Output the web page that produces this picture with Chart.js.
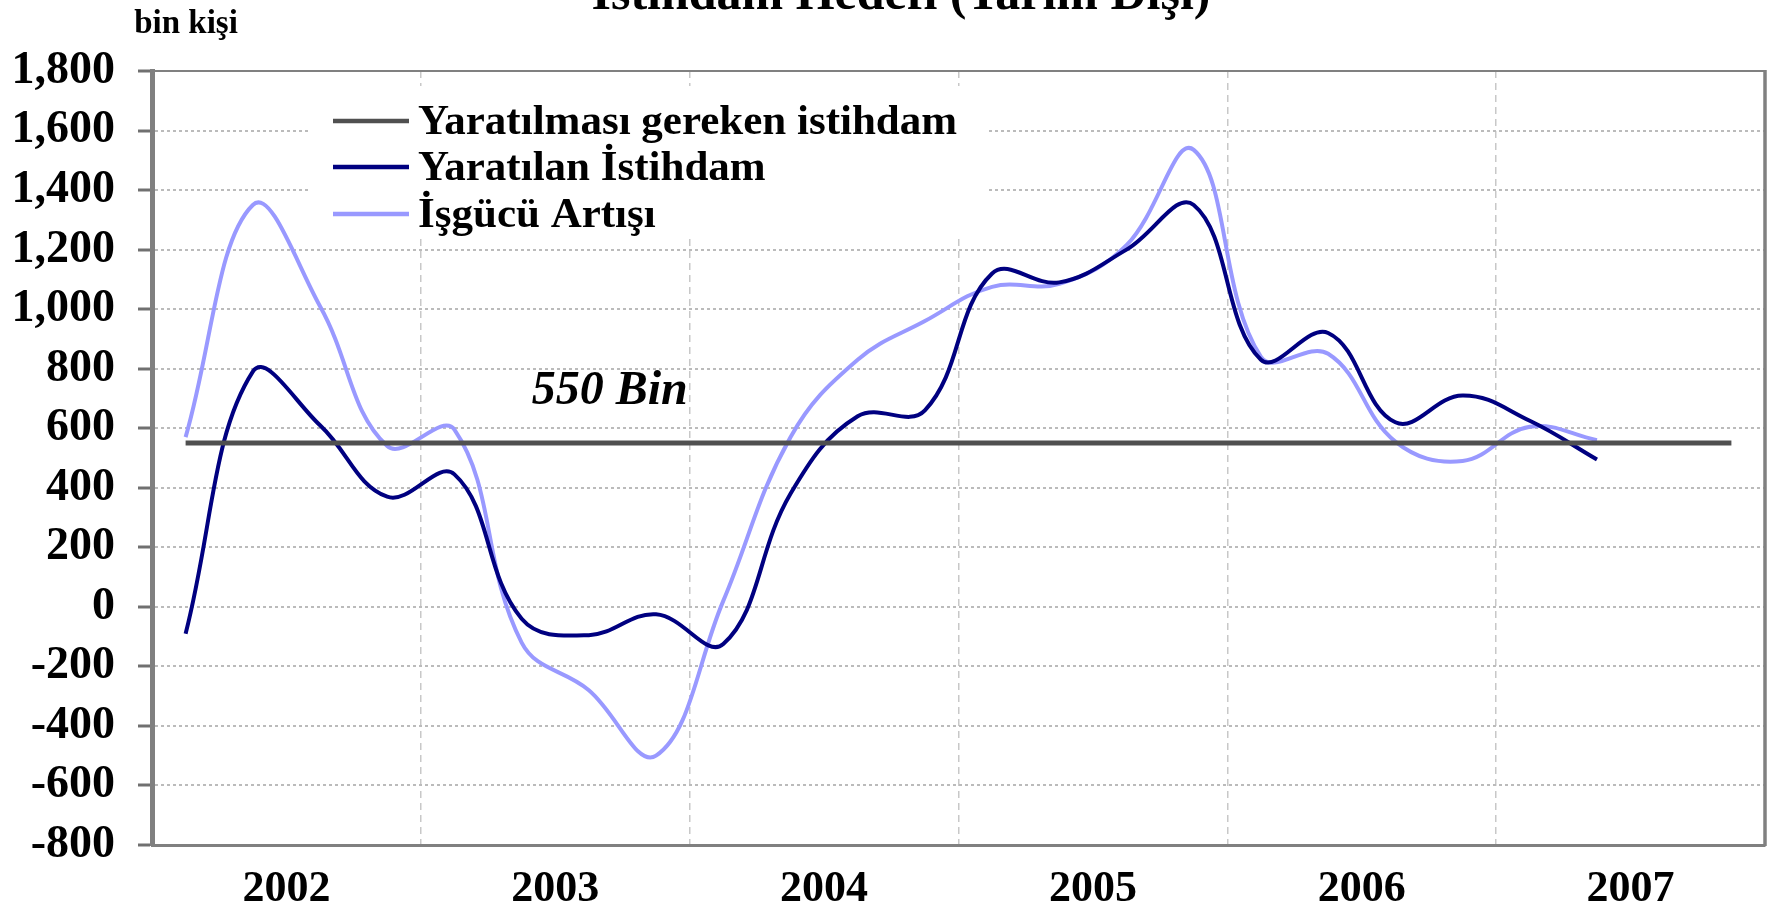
<!DOCTYPE html>
<html>
<head>
<meta charset="utf-8">
<script src="https://cdn.jsdelivr.net/npm/chart.js@4.4.1/dist/chart.umd.min.js"></script>
<style>
  html, body { margin: 0; padding: 0; background: #fff; }
  #wrap { width: 1778px; height: 911px; }
</style>
</head>
<body>
<div id="wrap"><canvas id="chart" width="1778" height="911"></canvas></div>
<script>
// quarterly observations, 2002 Q1 .. 2007 Q4
const quarters = [
    '2002-I', '2002-II', '2002-III', '2002-IV',
    '2003-I', '2003-II', '2003-III', '2003-IV',
    '2004-I', '2004-II', '2004-III', '2004-IV',
    '2005-I', '2005-II', '2005-III', '2005-IV',
    '2006-I', '2006-II', '2006-III', '2006-IV',
    '2007-I', '2007-II', '2007-III', '2007-IV'
];
const yearLabels = ['2002', '2003', '2004', '2005', '2006', '2007'];

// bin kişi
const gerekli = [550, 550, 550, 550, 550, 550, 550, 550, 550, 550, 550, 550,
                 550, 550, 550, 550, 550, 550, 550, 550, 550, 550, 550, 550];
const yaratilan = [-90, 790, 610, 370, 445, -40, -95, -25, -125, 380, 640, 660,
                   1120, 1090, 1200, 1350, 830, 920, 620, 710, 625, 495];
const isgucu = [570, 1350, 1010, 540, 595, -120, -280, -500, 20, 570, 830, 960,
                1075, 1085, 1215, 1535, 840, 850, 555, 490, 605, 560];

const yMin = -800, yMax = 1800, yStep = 200;

const serif = "'Liberation Serif', 'Times New Roman', serif";

// put each quarter in the middle of its slot on a 0..24 axis
const toPoints = arr => arr.map((v, i) => ({ x: i + 0.5, y: v, q: quarters[i] }));

const decor = {
    id: 'decor',
    beforeDatasetsDraw(chart) {
        const ctx = chart.ctx;
        // legend box hides the grid behind it
        ctx.save();
        ctx.fillStyle = '#fff';
        ctx.fillRect(309, 86, 680, 152);
        ctx.restore();
    },
    afterDraw(chart) {
        const ctx = chart.ctx;
        const area = chart.chartArea;
        ctx.save();

        // top and right frame
        ctx.strokeStyle = '#808080';
        ctx.lineWidth = 2;
        ctx.beginPath();
        ctx.moveTo(area.left, area.top);
        ctx.lineTo(area.right, area.top);
        ctx.stroke();
        ctx.lineWidth = 3.5;
        ctx.beginPath();
        ctx.moveTo(area.right, area.top - 1);
        ctx.lineTo(area.right, area.bottom + 1);
        ctx.stroke();

        // legend
        const rows = [121, 167, 214];
        ctx.font = 'bold 43px ' + serif;
        ctx.textAlign = 'left';
        ctx.textBaseline = 'alphabetic';
        chart.data.datasets.forEach((ds, i) => {
            const y = rows[i];
            ctx.strokeStyle = ds.borderColor;
            ctx.lineWidth = 4.5;
            ctx.beginPath();
            ctx.moveTo(333, y);
            ctx.lineTo(409, y);
            ctx.stroke();
            ctx.fillStyle = '#000';
            ctx.fillText(ds.label, 418, y + 13);
        });

        // annotation for the required level
        const xs = chart.scales.x, ys = chart.scales.y;
        ctx.font = 'italic bold 48px ' + serif;
        ctx.fillText('550 Bin', xs.getPixelForValue(5.65), ys.getPixelForValue(680));

        // unit label and (cut off) title
        ctx.textAlign = 'center';
        ctx.font = 'bold 33px ' + serif;
        ctx.fillText('bin kişi', 186, 33);
        ctx.font = 'bold 50px ' + serif;
        ctx.fillText('İstihdam Hedefi (Tarım Dışı)', 901, 9);

        ctx.restore();
    }
};

const ctx = document.getElementById('chart').getContext('2d');

new Chart(ctx, {
    type: 'line',
    data: {
        datasets: [
            {
                label: 'Yaratılması gereken istihdam',
                data: toPoints(gerekli),
                borderColor: '#505050',
                borderWidth: 5,
                tension: 0,
                pointRadius: 0
            },
            {
                label: 'Yaratılan İstihdam',
                data: toPoints(yaratilan),
                borderColor: '#000080',
                borderWidth: 4,
                tension: 0.4,
                pointRadius: 0
            },
            {
                label: 'İşgücü Artışı',
                data: toPoints(isgucu),
                borderColor: '#9999ff',
                borderWidth: 4,
                tension: 0.4,
                pointRadius: 0
            }
        ]
    },
    options: {
        responsive: false,
        animation: false,
        layout: { padding: { top: 71, right: 13, left: 0, bottom: 0 } },
        plugins: {
            legend: { display: false },
            tooltip: { enabled: false }
        },
        scales: {
            x: {
                type: 'linear',
                min: 0,
                max: 24,
                weight: 0,
                ticks: { display: false, stepSize: 4 },
                grid: { color: '#c8c8c8', lineWidth: 1.5, drawTicks: false },
                border: { display: true, color: '#808080', width: 3, dash: [7, 5] },
                afterFit(scale) { scale.height = 0; }
            },
            xl: {
                type: 'linear',
                position: 'bottom',
                min: 0,
                max: 24,
                weight: 1,
                grid: { display: false },
                border: { display: false },
                afterBuildTicks(axis) {
                    axis.ticks = yearLabels.map((_, i) => ({ value: 2 + 4 * i }));
                },
                ticks: {
                    autoSkip: false,
                    maxRotation: 0,
                    padding: 10,
                    color: '#000',
                    font: { family: serif, size: 44, weight: 'bold' },
                    callback: value => yearLabels[Math.round((value - 2) / 4)]
                },
                afterFit(scale) { scale.height = 66; }
            },
            y: {
                min: yMin,
                max: yMax,
                ticks: {
                    stepSize: yStep,
                    padding: 23,
                    color: '#000',
                    font: { family: serif, size: 46, weight: 'bold' },
                    callback: value => value.toLocaleString('en-US')
                },
                grid: {
                    color: '#bbbbbb',
                    lineWidth: 2,
                    tickLength: 14,
                    tickColor: '#707070',
                    tickWidth: 3,
                    tickBorderDash: []
                },
                border: { display: true, color: '#808080', width: 5, dash: [3, 3] },
                afterFit(scale) { scale.width = 152; }
            }
        }
    },
    plugins: [decor]
});
</script>
</body>
</html>
